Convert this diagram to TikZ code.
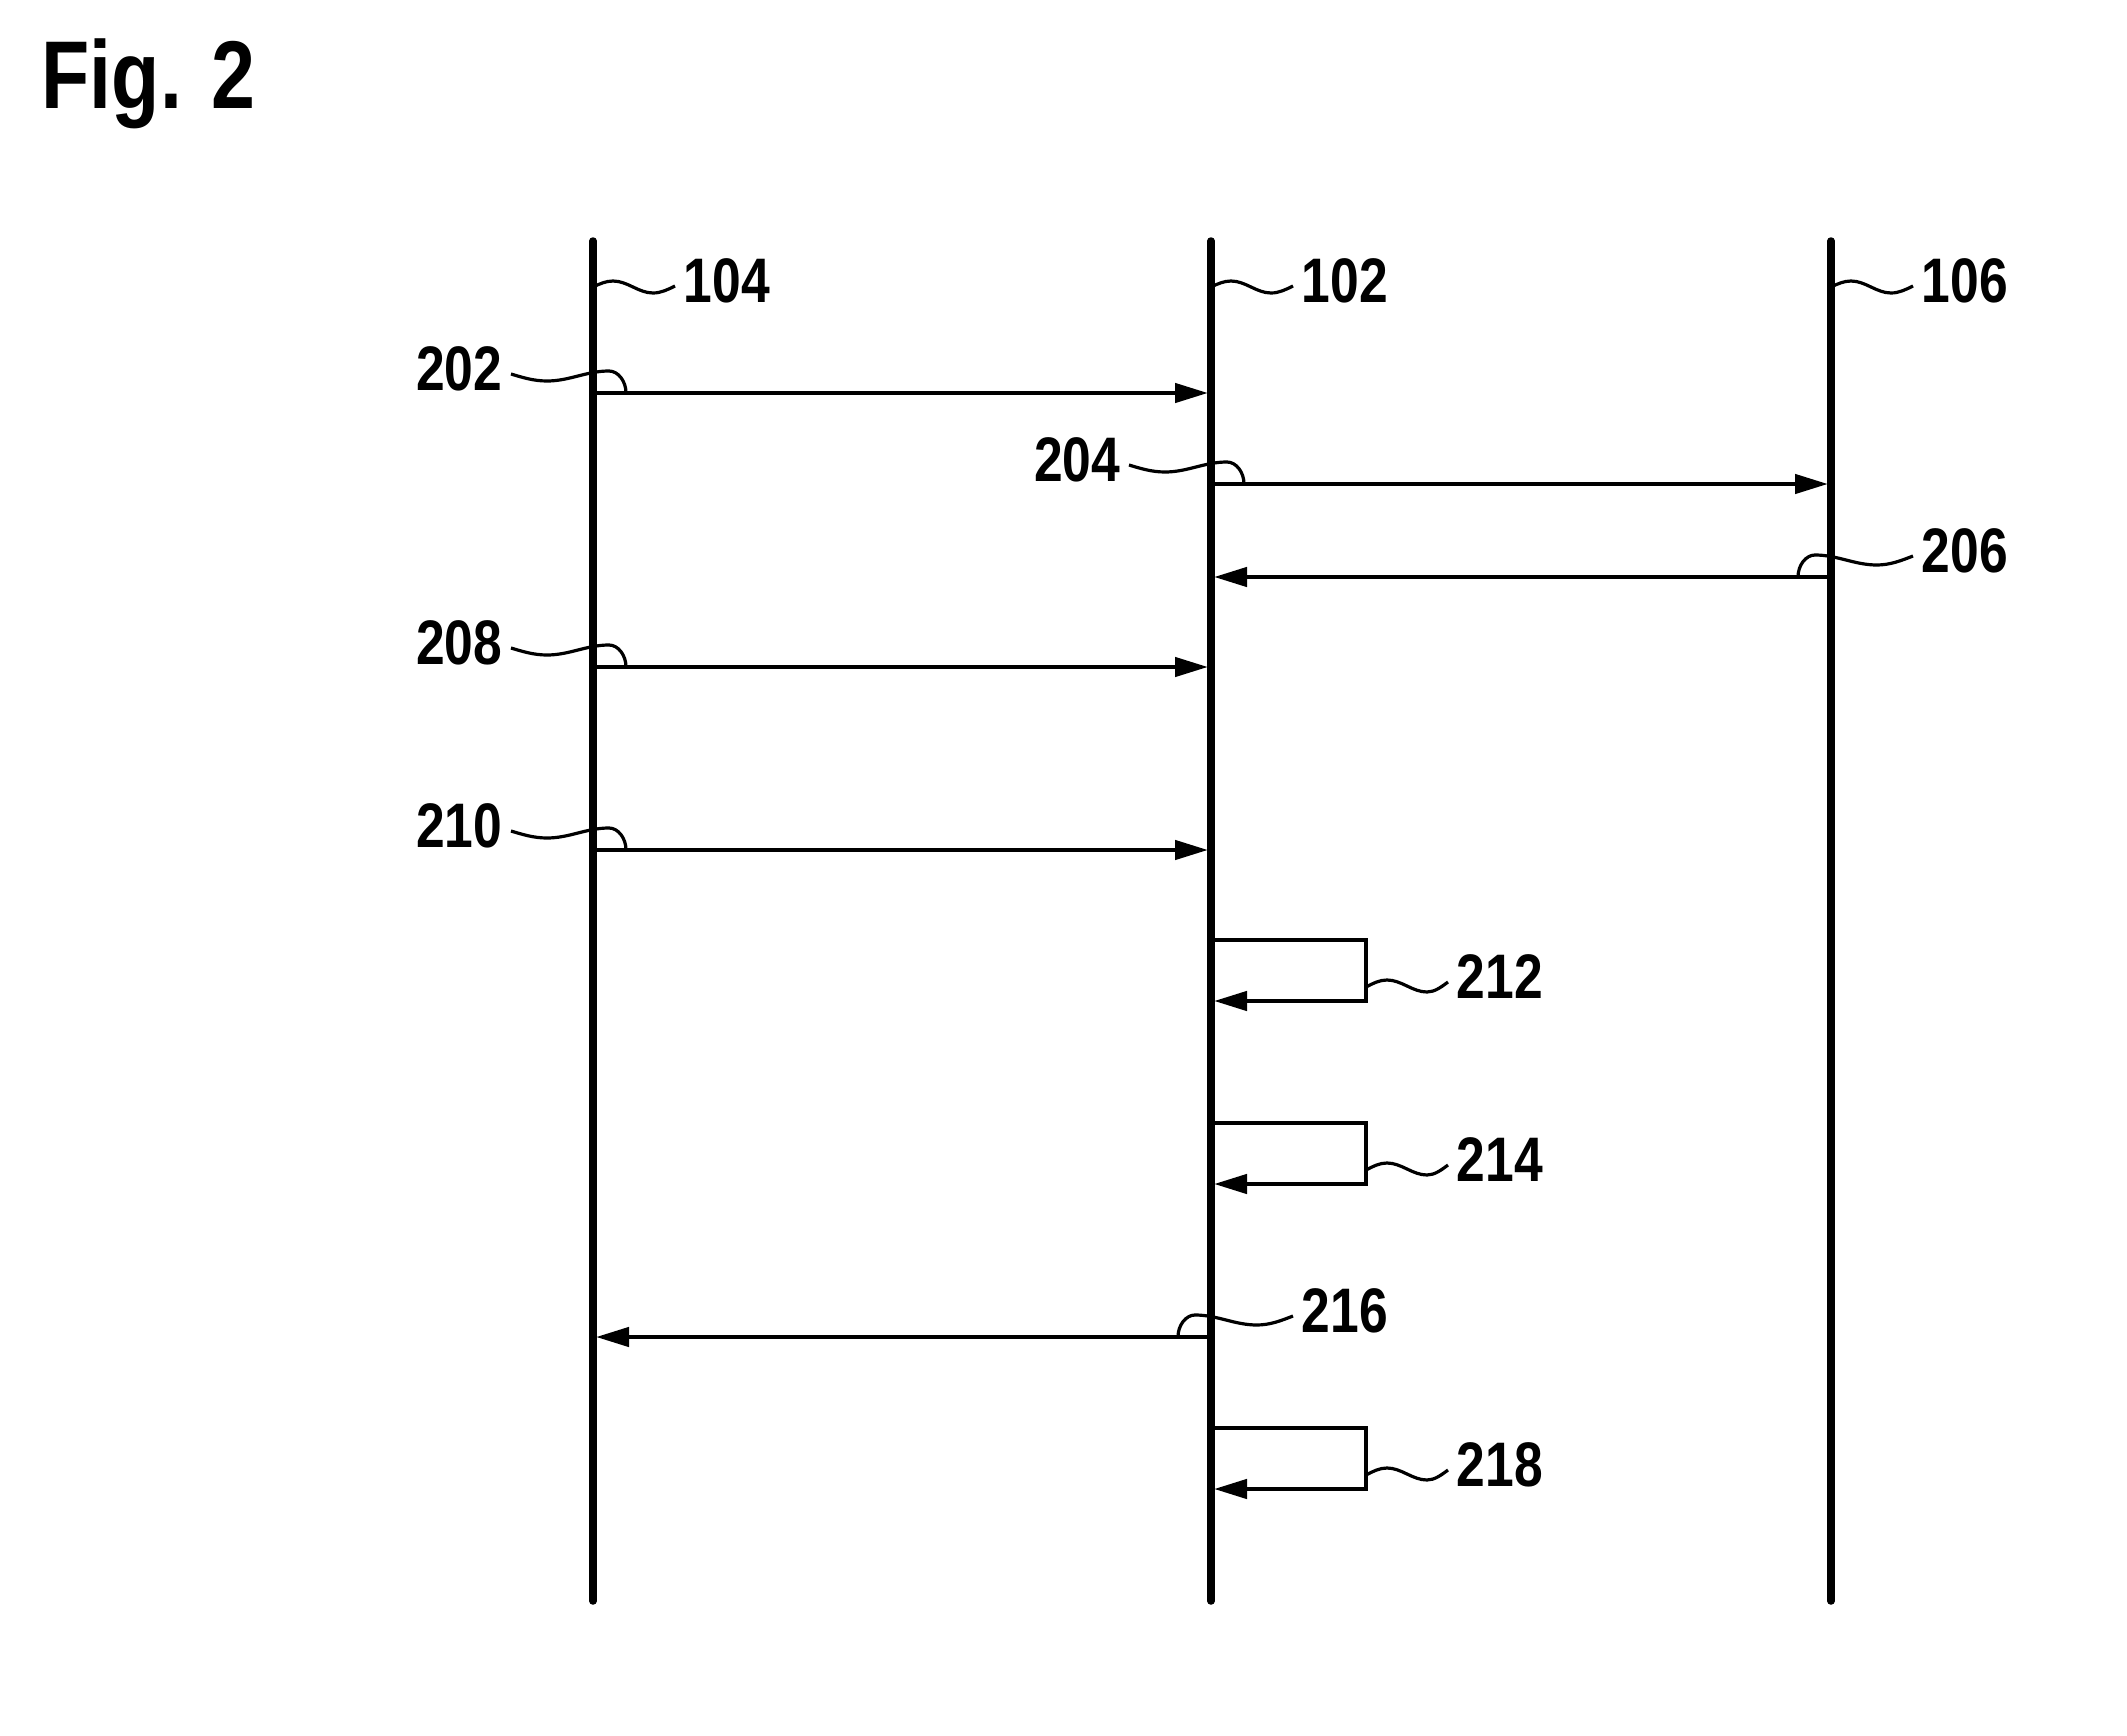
\documentclass[tikz,border=0pt]{standalone}
\usepackage{fontspec}
\setmainfont{Liberation Sans}[FakeStretch=0.82]
\usetikzlibrary{arrows.meta}

\begin{document}
\begin{tikzpicture}[x=0.1mm, y=-0.1mm,
    lifeline/.style={line width=0.75mm, line cap=round},
    msg/.style={line width=0.45mm, -{Triangle[length=3.3mm, width=1.9mm]}, shorten >=0.3mm},
    selfmsg/.style={msg, line join=miter},
    leader/.style={line width=0.32mm},
    num/.style={inner sep=0.8mm, text depth=1mm, font=\fontsize{17.9}{20}\selectfont\bfseries}]
    \useasboundingbox (0,0) rectangle (2127,1736);

    % Titel
    \node[anchor=base west, inner sep=0, font=\fontsize{27.4}{30}\selectfont\bfseries] (title) at (41,108) {Fig. 2};

    % Lebenslinien
    \draw[lifeline] (593,241) -- (593,1601);
    \draw[lifeline] (1211,241) -- (1211,1601);
    \draw[lifeline] (1831,241) -- (1831,1601);

    % Nachrichten
    \draw[msg] (593,393) -- (1211,393);
    \draw[msg] (1211,484) -- (1831,484);
    \draw[msg] (1831,577) -- (1211,577);
    \draw[msg] (593,667) -- (1211,667);
    \draw[msg] (593,850) -- (1211,850);
    \draw[msg] (1211,1337) -- (593,1337);

    % Eigene Schritte
    \draw[selfmsg] (1211,940) -- (1366,940) -- (1366,1001) -- (1211,1001);
    \draw[selfmsg] (1211,1123) -- (1366,1123) -- (1366,1184) -- (1211,1184);
    \draw[selfmsg] (1211,1428) -- (1366,1428) -- (1366,1489) -- (1211,1489);

    % Bezugszeichen
    \node[num, anchor=west] (n104) at (675,286) {104};
    \node[num, anchor=west] (n102) at (1293,286) {102};
    \node[num, anchor=west] (n106) at (1913,286) {106};
    \node[num, anchor=east] (n202) at (511,374) {202};
    \node[num, anchor=east] (n204) at (1129,465) {204};
    \node[num, anchor=west] (n206) at (1913,556) {206};
    \node[num, anchor=east] (n208) at (511,648) {208};
    \node[num, anchor=east] (n210) at (511,831) {210};
    \node[num, anchor=west] (n212) at (1448,982) {212};
    \node[num, anchor=west] (n214) at (1448,1165) {214};
    \node[num, anchor=west] (n216) at (1293,1316) {216};
    \node[num, anchor=west] (n218) at (1448,1470) {218};

    % Wellenlinien
    \draw[leader] (593,287) sin (613,281) cos (633,287) sin (653,293) cos (n104.west);
    \draw[leader] (1211,287) sin (1231,281) cos (1251,287) sin (1271,293) cos (n102.west);
    \draw[leader] (1831,287) sin (1851,281) cos (1871,287) sin (1891,293) cos (n106.west);
    \draw[leader] (626,393) .. controls (626,381) and (618,371) .. (609,371) cos (578,376) sin (547,381) cos (n202.east);
    \draw[leader] (1244,484) .. controls (1244,472) and (1236,462) .. (1227,462) cos (1196,467) sin (1165,472) cos (n204.east);
    \draw[leader] (1798,577) .. controls (1798,565) and (1806,555) .. (1815,555) cos (1846,560) sin (1877,565) cos (n206.west);
    \draw[leader] (626,667) .. controls (626,655) and (618,645) .. (609,645) cos (578,650) sin (547,655) cos (n208.east);
    \draw[leader] (626,850) .. controls (626,838) and (618,828) .. (609,828) cos (578,833) sin (547,838) cos (n210.east);
    \draw[leader] (1366,987) sin (1387,980) cos (1407,986) sin (1427,992) cos (n212.west);
    \draw[leader] (1366,1170) sin (1387,1163) cos (1407,1169) sin (1427,1175) cos (n214.west);
    \draw[leader] (1178,1337) .. controls (1178,1325) and (1186,1315) .. (1195,1315) cos (1226,1320) sin (1257,1325) cos (n216.west);
    \draw[leader] (1366,1475) sin (1387,1468) cos (1407,1474) sin (1427,1480) cos (n218.west);
\end{tikzpicture}
\end{document}
